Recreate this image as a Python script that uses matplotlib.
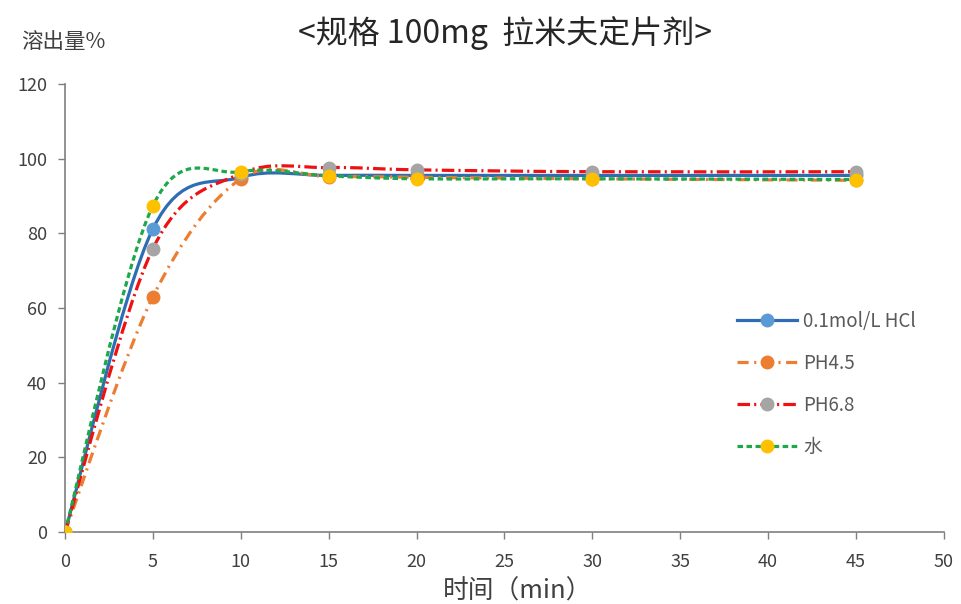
import numpy as np
import matplotlib
matplotlib.use("Agg")
import matplotlib.pyplot as plt
from matplotlib.path import Path
from matplotlib.patches import PathPatch
from matplotlib.lines import Line2D

plt.rcParams["font.family"] = ["Noto Sans CJK SC", "DejaVu Sans"]
plt.rcParams["lines.scale_dashes"] = False

# dissolution data
time_min = [0, 5, 10, 15, 20, 30, 45]
hcl = [0, 81.2, 95.0, 95.5, 95.5, 95.5, 95.5]
ph45 = [0, 63.0, 94.6, 95.2, 95.0, 94.6, 94.2]
ph68 = [0, 75.9, 96.0, 97.6, 97.0, 96.5, 96.5]
water = [0, 87.4, 96.5, 95.4, 94.6, 94.6, 94.4]

labels = ["0.1mol/L HCl", "PH4.5", "PH6.8", "水"]
line_colors = ["#2E6DB4", "#ED7D31", "#EE1111", "#1DA84A"]
marker_colors = ["#5B9BD5", "#ED7D31", "#A5A5A5", "#FFC000"]
line_styles = ["-", (0, (8, 4, 1.5, 4)), (0, (9, 3, 1.5, 3)), (0, (4, 2.5))]

x_ticks = list(range(0, 51, 5))
y_ticks = list(range(0, 121, 20))


def smooth_path(x, y):
    # Excel-like smoothed line: cubic bezier through every point
    pts = np.column_stack([x, y]).astype(float)
    n = len(pts)
    verts = [pts[0]]
    codes = [Path.MOVETO]
    for i in range(n - 1):
        p0 = pts[i - 1] if i > 0 else pts[i]
        p1 = pts[i]
        p2 = pts[i + 1]
        p3 = pts[i + 2] if i + 2 < n else pts[i + 1]
        c1 = p1 + (p2 - p0) / 6.0
        c2 = p2 - (p3 - p1) / 6.0
        verts += [c1, c2, p2]
        codes += [Path.CURVE4] * 3
    return Path(verts, codes)


fig = plt.figure(figsize=(9.62, 6.04), dpi=100)
ax = fig.add_axes([0.0676, 0.1192, 0.9134, 0.7418])

handles = []
for yv, lab, lc, mc, ls in zip([hcl, ph45, ph68, water], labels,
                               line_colors, marker_colors, line_styles):
    patch = PathPatch(smooth_path(time_min, yv), facecolor="none",
                      edgecolor=lc, linewidth=2.3, linestyle=ls,
                      capstyle="butt")
    ax.add_patch(patch)
    ax.plot(time_min, yv, linestyle="none", marker="o", markersize=9,
            color=mc, zorder=3)
    handles.append(Line2D([], [], color=lc, linewidth=2.3, linestyle=ls,
                          marker="o", markersize=9, markerfacecolor=mc,
                          markeredgecolor=mc))

ax.set_xlim(0, 50)
ax.set_ylim(0, 120)
ax.set_xticks(x_ticks)
ax.set_yticks(y_ticks)
ax.tick_params(axis="both", direction="out", length=5, width=1,
               color="#7F7F7F", labelsize=13, labelcolor="#404040")
ax.tick_params(axis="x", pad=10)
ax.tick_params(axis="y", pad=8)
for s in ["top", "right"]:
    ax.spines[s].set_visible(False)
for s in ["left", "bottom"]:
    ax.spines[s].set_color("#7F7F7F")
    ax.spines[s].set_linewidth(1.2)
for lab in ax.get_xticklabels():
    lab.set_clip_on(False)

ax.set_xlabel("时间（min）", fontsize=18.5, color="#404040")
ax.xaxis.set_label_coords(0.515, -0.103)
fig.text(0.525, 0.945, "<规格 100mg  拉米夫定片剂>", ha="center", va="center",
         fontsize=23, color="#262626")
fig.text(0.022, 0.93, "溶出量%", ha="left", va="center", fontsize=15.5,
         color="#404040")

leg = ax.legend(handles, labels, loc="center left",
                bbox_to_anchor=(0.745, 0.33), frameon=False, fontsize=13.5,
                handlelength=3.2, labelspacing=1.12, handletextpad=0.35,
                labelcolor="#595959")

fig.savefig("out.png", dpi=100)
plt.close(fig)
